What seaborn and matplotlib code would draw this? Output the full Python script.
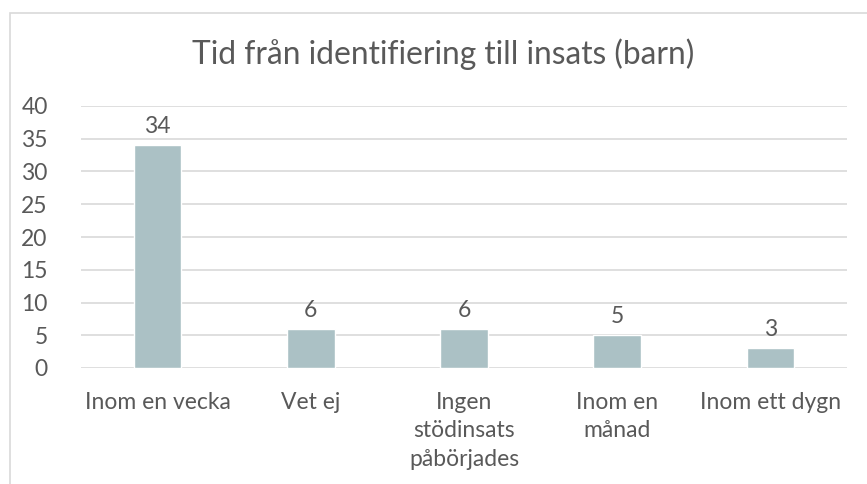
import matplotlib
matplotlib.use("Agg")
import matplotlib.pyplot as plt
import seaborn as sns
import pandas as pd
from matplotlib.patches import Rectangle

categories = ["Inom en vecka", "Vet ej", "Ingen\nstödinsats\npåbörjades", "Inom en\nmånad", "Inom ett dygn"]
values = [34, 6, 6, 5, 3]
yticks = [0, 5, 10, 15, 20, 25, 30, 35, 40]

df = pd.DataFrame({"kategori": categories, "antal": values})

sns.set_theme(style="white")
plt.rcParams["font.family"] = ["Lato", "DejaVu Sans"]
text_col = "#595959"

fig = plt.figure(figsize=(8.67, 4.84), dpi=100)
ax = fig.add_axes([81 / 867, 1 - 368 / 484, (847 - 81) / 867, (368 - 106) / 484])

sns.barplot(data=df, x="kategori", y="antal", color="#ABC1C5", width=0.31,
            saturation=1, ax=ax, zorder=3)

for i, v in enumerate(values):
    ax.text(i, v + 1.2, str(v), ha="center", va="bottom", fontsize=16.5, color=text_col)

ax.set_ylim(0, 40)
ax.set_yticks(yticks)
ax.grid(axis="y", color="#D9D9D9", linewidth=1.2, zorder=0)
ax.set_axisbelow(True)
sns.despine(ax=ax, left=True, bottom=True, top=True, right=True)
ax.tick_params(axis="both", length=0, labelsize=16.5, colors=text_col)
ax.tick_params(axis="x", pad=17)
ax.tick_params(axis="y", pad=24)
for lab in ax.get_xticklabels():
    lab.set_linespacing(1.45)
ax.set_xlabel("")
ax.set_ylabel("")

fig.text(443 / 867, 1 - 54 / 484, "Tid från identifiering till insats (barn)", ha="center", va="center",
         fontsize=22.9, color=text_col)

fig.patches.append(Rectangle((10 / 867, -0.1), 1.2, 1 - 13 / 484 + 0.1, transform=fig.transFigure,
                             fill=False, edgecolor="#D9D9D9", linewidth=1.2))

fig.savefig("out.png", dpi=100)
